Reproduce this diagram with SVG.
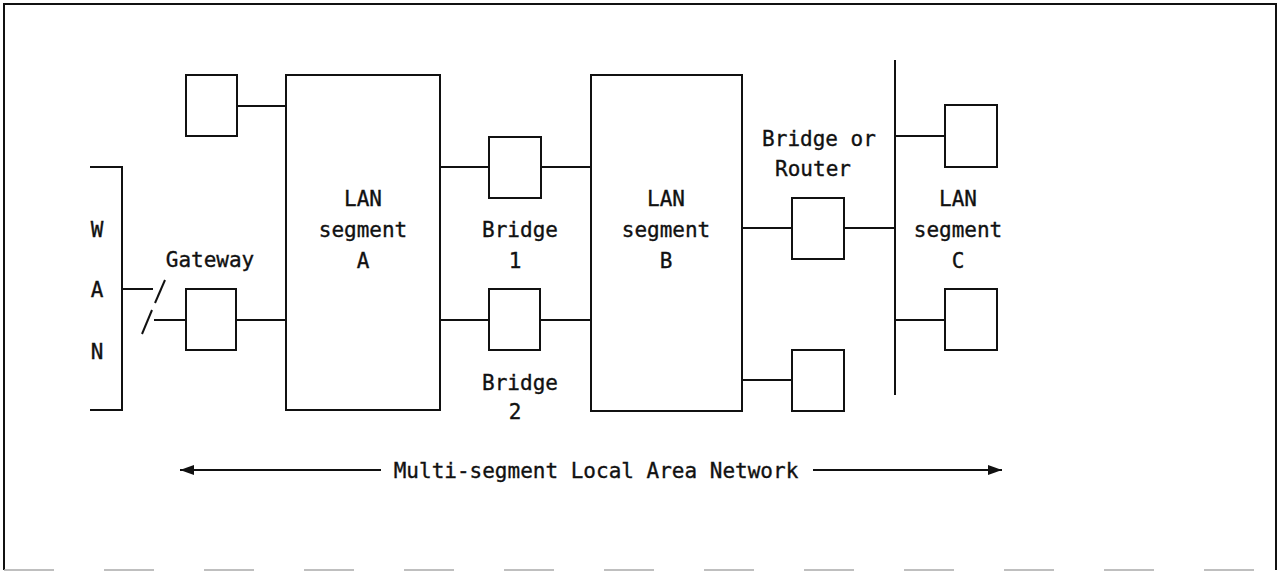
<svg xmlns="http://www.w3.org/2000/svg" width="1283" height="572" viewBox="0 0 1283 572">
<defs>
<style>
.ln{stroke:#111;stroke-width:2;fill:none}
.bx{stroke:#111;stroke-width:2;fill:#fff}
text{font-family:"DejaVu Sans Mono","Liberation Mono",monospace;font-size:21px;fill:#111;stroke:#111;stroke-width:0.35;text-anchor:middle}
</style>
<marker id="ah" viewBox="0 0 14 10" refX="14" refY="5" markerWidth="14" markerHeight="10" markerUnits="userSpaceOnUse" orient="auto">
<path d="M0,0 L14,5 L0,10 Z" fill="#111"/>
</marker>
</defs>
<rect width="1283" height="572" fill="#fff"/>
<g id="frame">
<path class="ln" d="M4,570 L4,4 L1276,4 L1276,570"/>
<line x1="4" y1="570" x2="1276" y2="570" stroke="#aaa" stroke-width="1.5" stroke-dasharray="50,50"/>
</g>
<g id="connectors">
<line class="ln" x1="237" y1="106" x2="286" y2="106"/>
<line class="ln" x1="122" y1="289" x2="153" y2="289"/>
<line class="ln" x1="165" y1="280" x2="155" y2="303"/>
<line class="ln" x1="152" y1="310" x2="142" y2="334"/>
<line class="ln" x1="154" y1="320" x2="186" y2="320"/>
<line class="ln" x1="236" y1="320" x2="286" y2="320"/>
<line class="ln" x1="440" y1="167" x2="489" y2="167"/>
<line class="ln" x1="541" y1="167" x2="591" y2="167"/>
<line class="ln" x1="440" y1="320" x2="489" y2="320"/>
<line class="ln" x1="540" y1="320" x2="591" y2="320"/>
<line class="ln" x1="742" y1="228" x2="792" y2="228"/>
<line class="ln" x1="844" y1="228" x2="895" y2="228"/>
<line class="ln" x1="742" y1="380" x2="792" y2="380"/>
<line class="ln" x1="895" y1="136" x2="945" y2="136"/>
<line class="ln" x1="895" y1="320" x2="945" y2="320"/>
<line class="ln" x1="381" y1="470" x2="180" y2="470" marker-end="url(#ah)"/>
<line class="ln" x1="813" y1="470" x2="1002" y2="470" marker-end="url(#ah)"/>
</g>
<g id="wan">
<path class="ln" d="M90,167 L122,167 L122,410 L90,410"/>
<text x="97" y="237">W</text>
<text x="97" y="297">A</text>
<text x="97" y="359">N</text>
</g>
<g id="gateway-label"><text x="210" y="267">Gateway</text></g>
<g id="node-a1"><rect class="bx" x="186" y="75" width="51" height="61"/></g>
<g id="gateway"><rect class="bx" x="186" y="289" width="50" height="61"/></g>
<g id="lan-a">
<rect class="bx" x="286" y="75" width="154" height="335"/>
<text x="363" y="206">LAN</text>
<text x="363" y="237">segment</text>
<text x="363" y="268">A</text>
</g>
<g id="bridge1">
<rect class="bx" x="489" y="137" width="52" height="61"/>
<text x="520" y="237">Bridge</text>
<text x="515" y="268">1</text>
</g>
<g id="bridge2">
<rect class="bx" x="489" y="289" width="51" height="61"/>
<text x="520" y="390">Bridge</text>
<text x="515" y="419">2</text>
</g>
<g id="lan-b">
<rect class="bx" x="591" y="75" width="151" height="336"/>
<text x="666" y="206">LAN</text>
<text x="666" y="237">segment</text>
<text x="666" y="268">B</text>
</g>
<g id="bridge-router">
<rect class="bx" x="792" y="198" width="52" height="61"/>
<text x="819" y="146">Bridge or</text>
<text x="813" y="176">Router</text>
</g>
<g id="node-b1"><rect class="bx" x="792" y="350" width="52" height="61"/></g>
<g id="lan-c">
<line class="ln" x1="895" y1="60" x2="895" y2="395"/>
<text x="958" y="206">LAN</text>
<text x="958" y="237">segment</text>
<text x="958" y="268">C</text>
</g>
<g id="node-c1"><rect class="bx" x="945" y="105" width="52" height="62"/></g>
<g id="node-c2"><rect class="bx" x="945" y="289" width="52" height="61"/></g>
<g id="lan-label"><text x="596" y="478">Multi-segment Local Area Network</text></g>
</svg>
